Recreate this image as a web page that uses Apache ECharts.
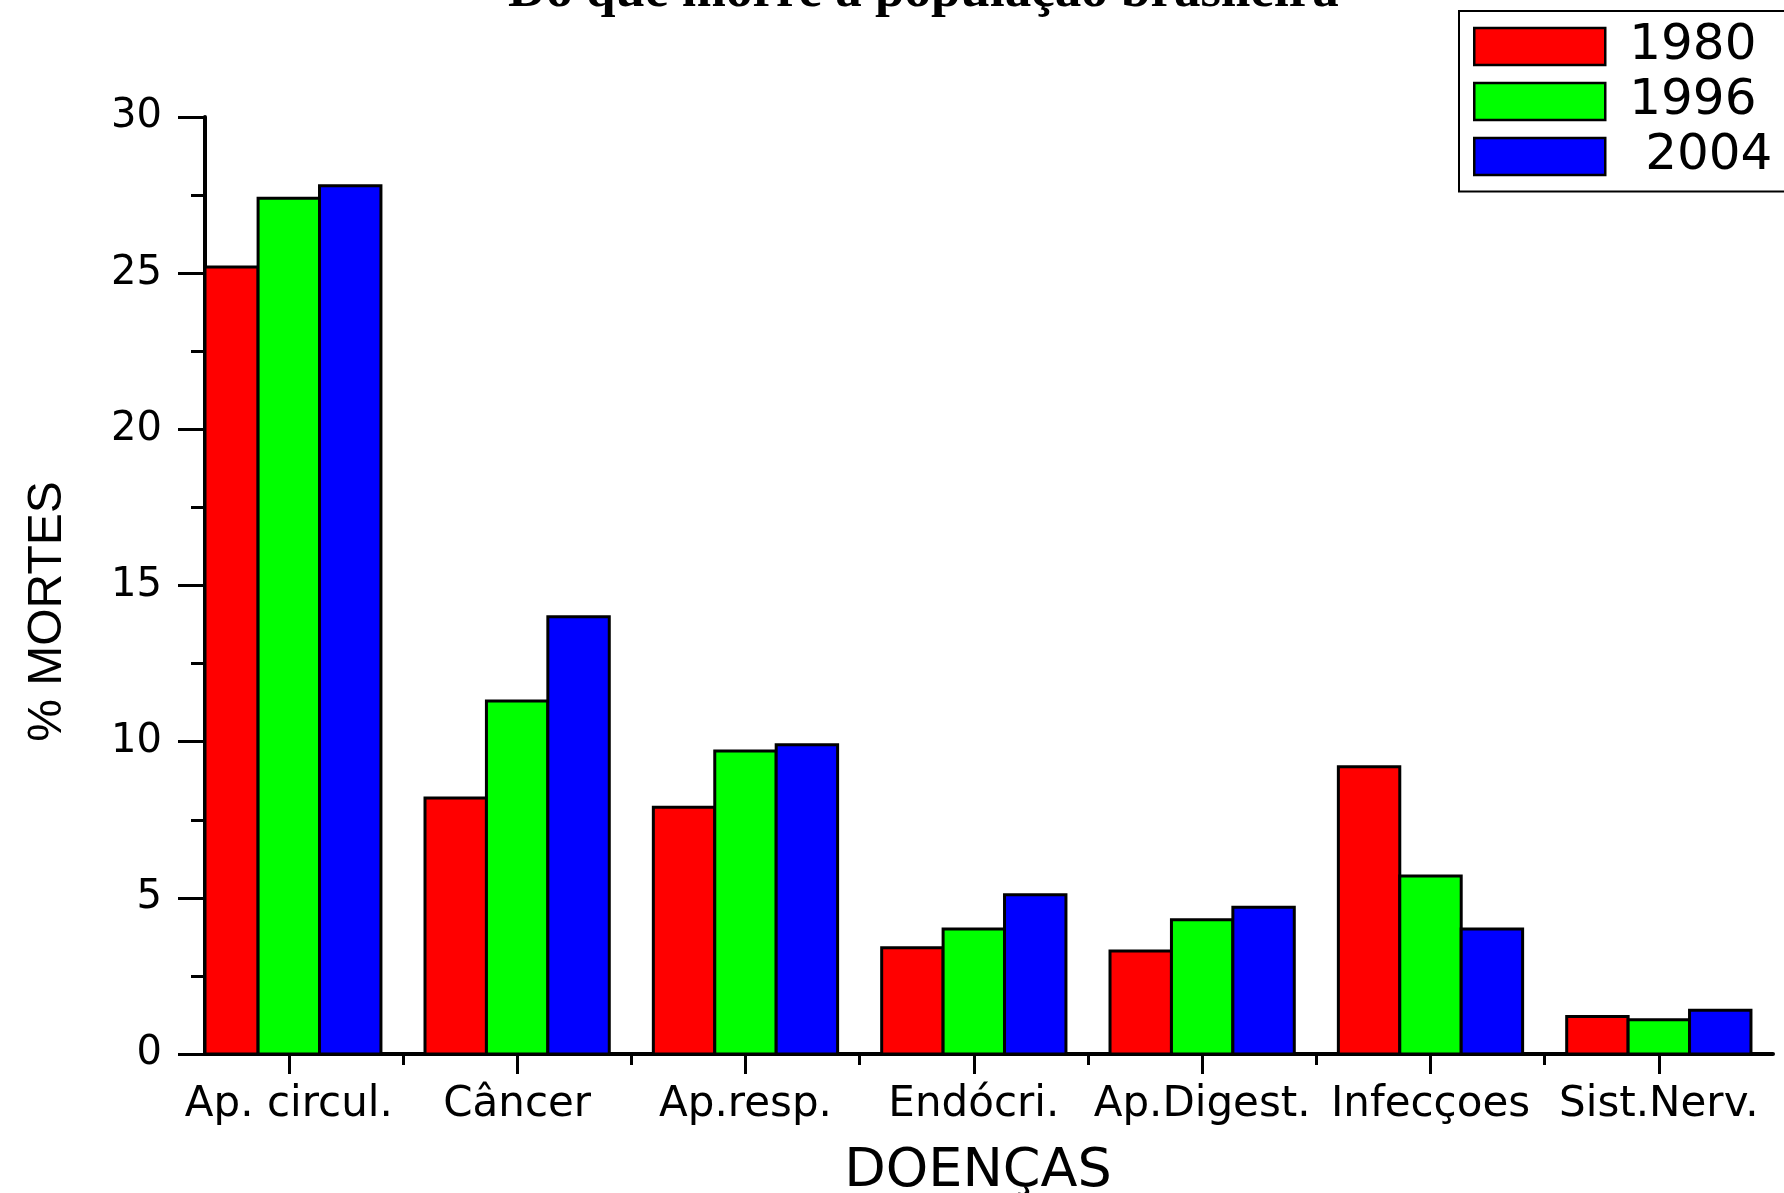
<!DOCTYPE html>
<html>
<head>
<meta charset="utf-8">
<script src="https://cdn.jsdelivr.net/npm/echarts@6/dist/echarts.min.js"></script>
<style>
html,body{margin:0;padding:0;background:#fff;}
#chart{width:1784px;height:1193px;}
</style>
</head>
<body>
<div id="chart"></div>
<script>
const title = 'Do que morre a população brasileira';
const categories = ['Ap. circul.', 'Câncer', 'Ap.resp.', 'Endócri.', 'Ap.Digest.', 'Infecçoes', 'Sist.Nerv.'];
const seriesNames = ['1980', '1996', '2004'];
const values1980 = [25.2, 8.2, 7.9, 3.4, 3.3, 9.2, 1.2];
const values1996 = [27.4, 11.3, 9.7, 4.0, 4.3, 5.7, 1.1];
const values2004 = [27.8, 14.0, 9.9, 5.1, 4.7, 4.0, 1.4];
const yTicks = [0, 5, 10, 15, 20, 25, 30];
const xAxisName = 'DOENÇAS';
const yAxisName = '% MORTES';

const colors = ['#ff0000', '#00ff00', '#0000ff'];
const allValues = [values1980, values1996, values2004];
const catPos = categories.map((c, i) => i + 1);
const boundaryPos = categories.slice(1).map((c, i) => i + 1.5);

const chart = echarts.init(document.getElementById('chart'), null, {renderer: 'canvas'});

const xMin = 0.633, xMax = 7.5;
const barUnit = 0.269; // width of one bar in category units

function makeRenderItem(s) {
  return function (params, api) {
    const x = api.value(0), y = api.value(1);
    const base = api.coord([x, 0]);
    const top = api.coord([x, y]);
    const bw = api.size([barUnit, 0])[0];
    const cx = base[0] + (s - 1) * bw;
    const cs = params.coordSys;
    const shape = echarts.graphic.clipRectByRect(
      {x: cx - bw / 2, y: top[1], width: bw, height: base[1] - top[1]},
      {x: cs.x, y: cs.y, width: cs.width, height: cs.height}
    );
    if (!shape) return null;
    return {
      type: 'rect',
      shape: shape,
      style: {fill: colors[s], stroke: '#000', lineWidth: 3}
    };
  };
}

const option = {
  backgroundColor: '#ffffff',
  animation: false,
  color: colors,
  title: {
    text: title,
    left: 508,
    top: -34,
    padding: 0,
    textStyle: {fontFamily: 'Liberation Serif', fontWeight: 'bold', fontSize: 53, color: '#000'}
  },
  legend: {
    orient: 'vertical',
    left: 1459,
    top: 11,
    padding: [10.5, 70, 10, 14],
    itemWidth: 131,
    itemHeight: 37,
    itemGap: 5,
    borderColor: '#000',
    borderWidth: 2,
    icon: 'rect',
    formatter: name => name === '2004' ? ' 2004' : name,
    itemStyle: {borderColor: '#000', borderWidth: 2.5},
    textStyle: {fontFamily: 'DejaVu Sans', fontSize: 50, color: '#000', padding: [0, 0, 0, 19]},
    data: seriesNames
  },
  grid: {left: 205, right: 11, top: 117, bottom: 139, outerBoundsMode: 'none', containLabel: false},
  xAxis: [
    {
      type: 'value',
      min: xMin,
      max: xMax,
      name: xAxisName,
      nameLocation: 'middle',
      nameGap: 91,
      nameTextStyle: {fontFamily: 'DejaVu Sans', fontSize: 54, color: '#000', padding: [0, 22, 0, 0]},
      axisLine: {show: true, onZero: false, lineStyle: {color: '#000', width: 4}},
      axisTick: {show: true, customValues: catPos, length: 20, lineStyle: {color: '#000', width: 3}},
      axisLabel: {
        customValues: catPos,
        margin: 30,
        fontFamily: 'DejaVu Sans',
        fontSize: 42,
        color: '#000',
        formatter: v => categories[Math.round(v) - 1] || ''
      },
      splitLine: {show: false}
    },
    {
      type: 'value',
      min: xMin,
      max: xMax,
      position: 'bottom',
      axisLine: {show: false, onZero: false},
      axisTick: {show: true, customValues: boundaryPos, length: 11, lineStyle: {color: '#000', width: 3}},
      axisLabel: {show: false},
      splitLine: {show: false}
    }
  ],
  yAxis: {
    type: 'value',
    min: 0,
    max: 30,
    interval: 5,
    name: yAxisName,
    nameLocation: 'middle',
    nameGap: 133,
    nameRotate: 90,
    nameTextStyle: {fontFamily: 'Liberation Sans', fontSize: 48, color: '#000', padding: [0, 52, 0, 0]},
    axisLine: {show: true, onZero: false, lineStyle: {color: '#000', width: 4}},
    axisTick: {show: true, length: 27, lineStyle: {color: '#000', width: 3}},
    minorTick: {show: true, splitNumber: 2, length: 14, lineStyle: {color: '#000', width: 3}},
    axisLabel: {
      margin: 43,
      fontFamily: 'DejaVu Sans',
      fontSize: 40,
      color: '#000',
      formatter: v => yTicks.includes(v) ? String(v) : ''
    },
    splitLine: {show: false},
    minorSplitLine: {show: false}
  },
  series: seriesNames.map((name, s) => ({
    name: name,
    type: 'custom',
    xAxisIndex: 0,
    yAxisIndex: 0,
    clip: true,
    itemStyle: {color: colors[s], borderColor: '#000', borderWidth: 2.5},
    encode: {x: 0, y: 1},
    renderItem: makeRenderItem(s),
    data: allValues[s].map((v, i) => [catPos[i], v])
  }))
};
chart.setOption(option);
</script>
</body>
</html>
